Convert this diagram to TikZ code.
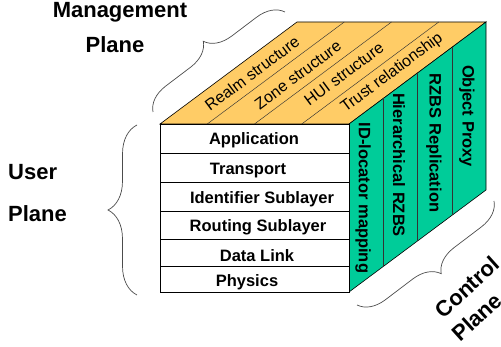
\documentclass[tikz,border=0pt]{standalone}
\usepackage{fontspec}
\setmainfont{Liberation Sans}
\usetikzlibrary{decorations.pathreplacing}
\definecolor{mgmt}{HTML}{FFCC66}
\definecolor{ctrl}{HTML}{00CC99}
\begin{document}
\begin{tikzpicture}[x=1pt,y=1pt,
  edge/.style={draw=black, line width=0.6pt},
  divider/.style={draw=black!80, line width=0.45pt},
  layertext/.style={font=\bfseries\fontsize{16.5}{18}\selectfont, anchor=base, inner sep=0pt},
  sidetext/.style={font=\bfseries\fontsize{16.5}{18}\selectfont, rotate=-90, inner sep=0pt},
  toptext/.style={font=\fontsize{16}{18}\selectfont, rotate=36.7, inner sep=0pt},
  planetext/.style={font=\bfseries\fontsize{22}{24}\selectfont, inner sep=0pt},
  bracestyle/.style={draw=black!70, line width=0.7pt, decorate, decoration={brace, amplitude=#1}}]
\useasboundingbox (0,0) rectangle (501,347);
% corners
\coordinate (FBL) at (160,55);
\coordinate (FBR) at (349,55);
\coordinate (FTL) at (160,223);
\coordinate (FTR) at (349,223);
\coordinate (BTL) at (297,325);
\coordinate (BTR) at (486,325);
\coordinate (BBR) at (486,157);
% faces
\path[edge, fill=mgmt] (FTL) -- (FTR) -- (BTR) -- (BTL) -- cycle;
\path[edge, fill=ctrl] (FTR) -- (FBR) -- (BBR) -- (BTR) -- cycle;
\path[edge, fill=white] (FBL) rectangle (FTR);
% layer separators
\foreach \y in {194,165,136,108,81} \draw[edge] (160,\y) -- (349,\y);
% top-face dividers
\foreach \x in {207.25,254.5,301.75} \draw[divider] (\x,223) -- ++(137,102);
% side-face dividers
\foreach \f in {0.25,0.5,0.75} \draw[divider] (349+137*\f,223+102*\f) -- ++(0,-168);
% layer names
\node[layertext] (app) at (254,202) {Application};
\node[layertext] (tra) at (248,172) {Transport};
\node[layertext] (ids) at (262,143.7) {Identifier Sublayer};
\node[layertext] (rou) at (258,115.3) {Routing Sublayer};
\node[layertext] (dl) at (257,85.3) {Data Link};
\node[layertext] (phy) at (247,60.3) {Physics};
% control plane
\node[sidetext] (idl) at (363,149) {ID-locator mapping};
\node[sidetext] (hrz) at (399,182) {Hierarchical RZBS};
\node[sidetext] (rzr) at (434,204) {RZBS Replication};
\node[sidetext] (obp) at (467,231) {Object Proxy};
% management plane
\node[toptext] (realm) at (252,273.5) {Realm structure};
\node[toptext] (zone) at (298,272) {Zone structure};
\node[toptext] (hui) at (344,273) {HUI structure};
\node[toptext] (trust) at (392,274) {Trust relationship};
% braces
\coordinate (mb1) at (153,235);
\coordinate (mb2) at (285,335);
\coordinate (ub1) at (137,52);
\coordinate (ub2) at (137,222);
\coordinate (cb1) at (494,146);
\coordinate (cb2) at (357,42);
\draw[bracestyle=26pt] (mb1) -- (mb2);
\draw[bracestyle=29pt] (ub1) -- (ub2);
\draw[bracestyle=26pt] (cb1) -- (cb2);
% plane labels
\node[planetext, anchor=base] (mg1) at (120,329) {Management};
\node[planetext, anchor=base] (mg2) at (115,294) {Plane};
\node[planetext, anchor=base west] (us1) at (8,167) {User};
\node[planetext, anchor=base west] (us2) at (8,125) {Plane};
\node[planetext, rotate=42] (ct1) at (467,60) {Control};
\node[planetext, rotate=42] (ct2) at (477,30) {Plane};
\end{tikzpicture}
\end{document}
